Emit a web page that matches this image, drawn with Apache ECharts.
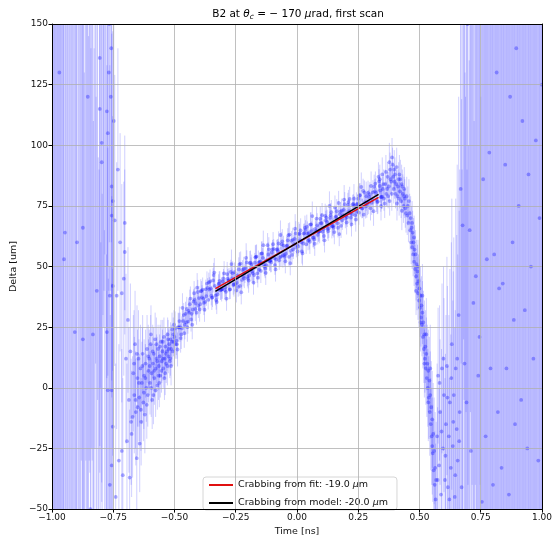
<!DOCTYPE html>
<html>
<head>
<meta charset="utf-8">
<script src="https://cdn.jsdelivr.net/npm/echarts@6/dist/echarts.min.js"></script>
<style>html,body{margin:0;padding:0;background:#fff}#c{width:555px;height:542px}</style>
</head>
<body>
<div id="c"></div>
<script>
// [time (ns), delta (um), error (um)]
const leftTail = [
[-1.000,-70,300],[-0.995,170,250],[-0.990,-80,260],[-0.985,210,320],[-0.980,175,280],[-0.975,-120,300],
[-0.970,130,240],[-0.965,250,330],[-0.960,-85,270],[-0.955,160,290],[-0.951,53,250],[-0.947,64,250],
[-0.944,-150,310],[-0.938,190,280],[-0.932,-95,300],[-0.926,-60,250],[-0.920,160,270],[-0.914,230,310],
[-0.907,23,280],[-0.902,-100,260],[-0.898,60,240],[-0.892,205,290],[-0.886,-110,260],[-0.880,200,230],
[-0.874,66,250],[-0.874,20,270],[-0.868,-90,220],[-0.862,180,210],[-0.856,-70,240],[-0.854,120,230],
[-0.848,170,200],[-0.843,-50,220],[-0.838,185,210],[-0.833,22,190],[-0.828,-60,200],[-0.822,190,180],
[-0.817,40,190],[-0.811,-75,170],[-0.805,136,160],[-0.805,115,150],[-0.801,-90,150],[-0.797,101,140],
[-0.797,93,140],[-0.792,160,130],[-0.788,170,130],[-0.784,175,120],[-0.780,-80,120],[-0.776,114,110],
[-0.776,23,110],[-0.772,105,100],[-0.772,-1,100],[-0.768,130,90],[-0.764,38,95],[-0.764,-40,90],
[-0.760,120,80],[-0.756,83,80],[-0.756,71,75],[-0.756,-1,80],[-0.756,-32,75],[-0.752,77,70],
[-0.752,42,70],[-0.752,-16,65],[-0.748,110,60],[-0.744,69,60],[-0.740,-45,55],[-0.736,38,55],
[-0.731,90,50],[-0.727,-30,48],[-0.722,60,45],[-0.715,39,45],[-0.715,-26,42],[-0.711,-36,40],
[-0.707,45,40],[-0.703,68,36],[-0.703,56,34]
];
const leftTail2 = [
[-0.998,-90,290],[-0.993,185,300],[-0.988,-130,320],[-0.983,220,300],[-0.978,-70,280],[-0.973,195,310],
[-0.968,-105,290],[-0.963,240,320],[-0.958,-65,270],[-0.953,180,300],[-0.942,-115,290],[-0.936,205,300],
[-0.929,-80,280],[-0.923,175,290],[-0.917,-140,310],[-0.911,215,300],[-0.905,-75,260],[-0.899,190,280],
[-0.889,-95,270],[-0.883,170,260],[-0.877,-120,280],[-0.871,200,250],[-0.865,-65,240],[-0.859,165,230],
[-0.851,-85,230],[-0.846,185,220],[-0.841,-70,210],[-0.836,170,200],[-0.831,-90,200],[-0.825,165,190],
[-0.820,-60,180],[-0.814,175,180],[-0.808,-80,170],[-0.803,160,160],[-0.795,-70,150],[-0.790,165,140],
[-0.786,-65,130],[-0.782,160,120],[-0.778,-60,115],[-0.774,155,105],[-0.770,-55,100],[-0.766,150,90],
[-0.762,-60,90],[-0.758,140,80]
];
const dip = [
[-0.698,12,35],[-0.694,-22,32],[-0.690,28,30],[-0.686,-5,30],[-0.683,-37,28],[-0.680,15,28],
[-0.677,-14,26],[-0.675,-19,26],[-0.671,-12,25],[-0.668,6,24],[-0.664,-3,24],[-0.661,18,22],
[-0.658,-10,22],[-0.654,-29,22],[-0.651,4,20],[-0.650,-8,20],[-0.647,12,20],[-0.644,-4,18],
[-0.642,-23,20],[-0.639,8,18],[-0.636,-14,18],[-0.633,2,17],[-0.630,14,16],[-0.627,-6,16],
[-0.624,5,15],[-0.621,-11,16],[-0.618,10,14],[-0.615,0,14],[-0.612,16,14],[-0.609,-3,13],
[-0.606,7,13],[-0.603,12,12],[-0.600,2,13],[-0.597,18,12],[-0.594,6,12],[-0.591,-5,12],
[-0.588,10,11],[-0.585,14,11],[-0.582,4,11],[-0.579,20,11],[-0.576,8,10],[-0.573,12,10],
[-0.570,1,10],[-0.567,16,10],[-0.564,9,10],[-0.561,13,9],[-0.558,5,9],[-0.555,19,9],
[-0.552,11,9],[-0.549,15,9],[-0.546,8,8],[-0.543,21,8],[-0.540,12,8],[-0.537,17,8],
[-0.534,10,8],[-0.531,15,8],[-0.528,22,7],[-0.525,13,7],[-0.522,18,7],[-0.519,11,7],
[-0.516,20,7],[-0.513,16,7],[-0.510,24,7],[-0.507,15,6],[-0.504,19,6],[-0.502,26,6]
];
const dip2 = [
[-0.665,10,22],[-0.659,-5,20],[-0.653,14,20],[-0.645,2,18],[-0.637,-9,17],[-0.631,9,16],
[-0.625,-2,15],[-0.619,4,14],[-0.613,-7,14],[-0.607,13,13],[-0.601,9,12],[-0.595,0,12],
[-0.589,15,11],[-0.583,7,11],[-0.577,-1,11],[-0.571,11,10],[-0.565,5,10],[-0.559,17,9],
[-0.553,7,9],[-0.547,12,9],[-0.541,4,9],[-0.535,14,8],[-0.529,9,8],[-0.523,16,8],
[-0.517,12,7],[-0.511,19,7],[-0.505,22,7],[-0.596,22,12],[-0.586,-3,12],[-0.574,18,11],
[-0.562,2,10],[-0.548,19,9],[-0.538,6,9],[-0.526,20,8],[-0.514,9,8]
];
const rampA = [
[-0.50,21,6],[-0.49,18,6],[-0.48,27.5,6],[-0.47,24.5,5],[-0.46,22.5,6],[-0.45,32.5,5],[-0.44,31,5],
[-0.43,30.5,5],[-0.42,39,5],[-0.41,31,5],[-0.40,37,5],[-0.39,40,4],[-0.38,35,5],[-0.37,37.8,4],
[-0.36,43.5,4],[-0.35,38,4],[-0.34,46.5,5],[-0.33,36.2,4],[-0.32,42.8,4],[-0.31,40.4,4],[-0.30,45,4],
[-0.29,39.6,4],[-0.28,44.2,4],[-0.27,47.8,5],[-0.26,42.4,4],[-0.25,45,4],[-0.24,41.6,4],[-0.23,51.2,5],
[-0.22,45.8,4],[-0.21,49.4,4],[-0.20,45,4],[-0.19,51.6,5],[-0.18,47.2,4],[-0.17,53.8,5],[-0.16,45.4,4],
[-0.15,52,4],[-0.14,53.6,4],[-0.13,49.2,4],[-0.12,58.8,5],[-0.11,52.4,4],[-0.10,57,4],[-0.09,50.6,4],
[-0.08,57.2,4],[-0.07,53.8,4],[-0.06,60.4,5],[-0.05,54,4],[-0.04,58.6,4],[-0.03,63.2,5],[-0.02,54.8,4],
[-0.01,61.4,4],[0.00,59,4],[0.01,63.6,4],[0.02,56.2,5],[0.03,63.8,4],[0.04,66.4,5],[0.05,61,4],
[0.06,64.6,4],[0.07,61.2,4],[0.08,69.8,5],[0.09,64.4,4],[0.10,68,4],[0.11,62.6,4],[0.12,70.2,5],
[0.13,65.8,4],[0.14,72.4,5],[0.15,66,4],[0.16,70.6,4],[0.17,76.2,5],[0.18,66.8,5],[0.19,73.4,4],
[0.20,71,4],[0.21,76.6,5],[0.22,70.2,4],[0.23,75.8,4],[0.24,69.4,5],[0.25,78,5],[0.26,74.6,4],
[0.27,81.2,5],[0.28,74.8,5],[0.29,80.4,5],[0.30,74,5],[0.31,80.6,5],[0.32,84.2,5],[0.33,76.8,5],
[0.34,81.4,5]
];
const rampB = [
[-0.495,18,6],[-0.485,25,6],[-0.475,20.5,6],[-0.465,27.5,5],[-0.455,30.5,5],[-0.445,27.3,5],[-0.435,36.8,5],
[-0.425,32.3,5],[-0.415,32.5,5],[-0.405,39.5,5],[-0.395,34.5,4],[-0.385,40.5,5],[-0.375,35.4,4],[-0.365,41.2,4],
[-0.355,43.8,5],[-0.345,37.3,4],[-0.335,42,4],[-0.325,38.5,4],[-0.315,44.1,4],[-0.305,40.7,4],[-0.295,40.3,4],
[-0.285,46.9,5],[-0.275,40.5,4],[-0.265,45.1,4],[-0.255,47.7,4],[-0.245,43.3,4],[-0.235,50.9,5],[-0.225,44.5,4],
[-0.215,45.1,4],[-0.205,51.7,5],[-0.195,46.3,4],[-0.185,50.9,4],[-0.175,46.5,4],[-0.165,54.1,5],[-0.155,48.7,4],
[-0.145,55.3,5],[-0.135,50.9,4],[-0.125,50.5,4],[-0.115,57.1,5],[-0.105,51.7,4],[-0.095,57.3,4],[-0.085,52.9,4],
[-0.075,59.5,5],[-0.065,54.1,4],[-0.055,58.7,4],[-0.045,55.3,4],[-0.035,62.9,5],[-0.025,56.5,4],[-0.015,57.1,4],
[-0.005,63.7,5],[0.005,58.3,4],[0.015,64.9,5],[0.025,59.5,4],[0.035,65.1,4],[0.045,60.7,4],[0.055,67.3,5],
[0.065,61.9,4],[0.075,65.5,4],[0.085,63.1,4],[0.095,69.7,5],[0.105,64.3,4],[0.115,70.9,5],[0.125,65.5,4],
[0.135,70.1,4],[0.145,66.7,4],[0.155,74.3,5],[0.165,67.9,4],[0.175,71.5,4],[0.185,69.1,4],[0.195,75.7,5],
[0.205,70.3,4],[0.215,77.9,5],[0.225,71.5,4],[0.235,75.1,4],[0.245,72.7,4],[0.255,79.3,5],[0.265,73.9,4],
[0.275,80.5,5],[0.285,75.1,5],[0.295,78.7,5],[0.305,76.3,5],[0.315,82.9,5],[0.325,77.5,5],[0.335,85.1,5],
[0.345,78.7,5]
];
const rampC = [
[-0.4975,24.5,7],[-0.4875,15.8,7],[-0.4775,25,6],[-0.4675,33,6],[-0.4575,26,6],[-0.4475,25,6],[-0.4375,34.5,6],
[-0.4275,26,6],[-0.4175,36.3,5],[-0.4075,41.3,6],[-0.3975,32.3,5],[-0.3875,37.3,5],[-0.3775,32.2,5],[-0.3675,43,5],
[-0.3575,40.6,5],[-0.3475,37.1,5],[-0.3375,47.5,6],[-0.3275,35.4,5],[-0.3175,43,5],[-0.3075,40.6,5],[-0.2975,47.2,5],
[-0.2875,36.8,5],[-0.2775,44.4,5],[-0.2675,51,6],[-0.2575,42.6,5],[-0.2475,40.2,5],[-0.2375,48.8,5],[-0.2275,39.4,5],
[-0.2175,49,5],[-0.2075,53.6,6],[-0.1975,44.2,5],[-0.1875,48.8,5],[-0.1775,43.4,5],[-0.1675,54,5],[-0.1575,51.6,5],
[-0.1475,48.2,5],[-0.1375,58.8,6],[-0.1275,47.4,5],[-0.1175,55,5],[-0.1075,52.6,5],[-0.0975,59.2,5],[-0.0875,48.8,5],
[-0.0775,56.4,5],[-0.0675,63,6],[-0.0575,54.6,5],[-0.0475,52.2,5],[-0.0375,60.8,5],[-0.0275,51.4,5],[-0.0175,61,5],
[-0.0075,65.6,6],[0.0025,56.2,5],[0.0125,60.8,5],[0.0225,55.4,5],[0.0325,66,5],[0.0425,63.6,5],[0.0525,60.2,5],
[0.0625,70.8,6],[0.0725,59.4,5],[0.0825,67,5],[0.0925,64.6,5],[0.1025,71.2,5],[0.1125,60.8,5],[0.1225,68.4,5],
[0.1325,75,6],[0.1425,66.6,5],[0.1525,64.2,5],[0.1625,72.8,5],[0.1725,63.4,5],[0.1825,73,5],[0.1925,77.6,6],
[0.2025,68.2,5],[0.2125,72.8,5],[0.2225,67.4,5],[0.2325,78,6],[0.2425,75.6,5],[0.2525,72.2,5],[0.2625,82.8,6],
[0.2725,71.4,5],[0.2825,79,6],[0.2925,76.6,5],[0.3025,83.2,6],[0.3125,72.8,6],[0.3225,80.4,6],[0.3325,87,6],
[0.3425,78.6,6]
];
const rampD = [
[-0.4925,19.5,6],[-0.4825,24.8,6],[-0.4725,22,6],[-0.4625,30,5],[-0.4525,27,5],[-0.4425,31.7,5],[-0.4325,28.2,5],
[-0.4225,35.6,5],[-0.4125,34.8,5],[-0.4025,33.8,5],[-0.3925,39.8,5],[-0.3825,36.8,4],[-0.3725,40.6,4],[-0.3625,36.3,4],
[-0.3525,40.9,4],[-0.3425,44.3,5],[-0.3325,38,4],[-0.3225,40.6,4],[-0.3125,40.2,4],[-0.3025,43.8,4],[-0.2925,41.4,4],
[-0.2825,45,4],[-0.2725,40.6,4],[-0.2625,47.2,5],[-0.2525,42.8,4],[-0.2425,46.4,4],[-0.2325,42,4],[-0.2225,48.6,4],
[-0.2125,47.2,4],[-0.2025,45.8,4],[-0.1925,51.4,5],[-0.1825,48,4],[-0.1725,51.6,4],[-0.1625,47.2,4],[-0.1525,51.8,4],
[-0.1425,55.4,5],[-0.1325,50,4],[-0.1225,52.6,4],[-0.1125,52.2,4],[-0.1025,55.8,4],[-0.0925,53.4,4],[-0.0825,57,4],
[-0.0725,52.6,4],[-0.0625,59.2,5],[-0.0525,54.8,4],[-0.0425,58.4,4],[-0.0325,54,4],[-0.0225,60.6,4],[-0.0125,59.2,4],
[-0.0025,57.8,4],[0.0075,63.4,5],[0.0175,60,4],[0.0275,63.6,4],[0.0375,59.2,4],[0.0475,63.8,4],[0.0575,67.4,5],
[0.0675,62,4],[0.0775,64.6,4],[0.0875,64.2,4],[0.0975,67.8,4],[0.1075,65.4,4],[0.1175,69,4],[0.1275,64.6,4],
[0.1375,71.2,5],[0.1475,66.8,4],[0.1575,70.4,4],[0.1675,66,4],[0.1775,72.6,4],[0.1875,71.2,4],[0.1975,69.8,4],
[0.2075,75.4,5],[0.2175,72,4],[0.2275,75.6,4],[0.2375,71.2,4],[0.2475,75.8,4],[0.2575,79.4,5],[0.2675,74,4],
[0.2775,76.6,5],[0.2875,76.2,5],[0.2975,79.8,5],[0.3075,77.4,5],[0.3175,81,5],[0.3275,76.6,5],[0.3375,83.2,5],
[0.3475,78.8,5]
];
const peak = [
[0.350,82,5],[0.355,78,5],[0.360,84,6],[0.365,80,5],[0.370,87,6],[0.372,79,5],[0.375,83,6],
[0.380,90,7],[0.382,86,6],[0.385,85,6],[0.390,92,7],[0.392,87,6],[0.395,82,6],[0.400,88,7],
[0.402,80,6],[0.405,84,6],[0.410,79,6],[0.412,83,7],[0.415,86,7],[0.420,81,7],[0.422,86,8],
[0.425,77,7],[0.430,83,7],[0.432,80,8],[0.435,75,7],[0.440,78,8],[0.442,74,8],[0.445,72,8]
];
const peak2 = [
[0.338,86,6],[0.343,75,6],[0.348,88,7],[0.353,84,6],[0.358,76,6],[0.363,89,7],[0.368,82,7],
[0.377,93,8],[0.387,80,7],[0.397,90,8],[0.407,91,8],[0.417,78,7],[0.427,84,8],[0.437,79,8],
[0.378,77,6],[0.388,95,8],[0.398,85,7],[0.408,76,7],[0.418,88,8],[0.428,73,8],[0.438,82,9]
];
const drop = [
[0.448,79,8],[0.450,71,8],[0.452,75,8],[0.455,68,8],[0.457,77,9],[0.460,72,8],[0.462,65,8],
[0.464,70,9],[0.466,60,9],[0.468,66,9],[0.470,58,9],[0.472,64,9],[0.474,55,9],[0.476,60,10],
[0.478,52,10],[0.480,57,10],[0.482,49,10],[0.484,55,10],[0.486,46,10],[0.488,51,10],[0.490,43,11],
[0.492,48,11],[0.494,39,11],[0.496,44,11],[0.498,36,11],[0.500,41,12],[0.502,33,12],[0.504,38,12],
[0.506,29,12],[0.508,34,12],[0.510,26,13],[0.512,31,13],[0.514,21,13],[0.516,27,13],[0.518,16,14],
[0.520,22,14],[0.522,12,14],[0.524,17,15],[0.526,8,15],[0.528,14,15],[0.530,4,16],[0.532,10,16],
[0.534,0,16],[0.536,7,17],[0.538,-4,17],[0.540,3,18],[0.542,-10,18],[0.544,-3,18],[0.546,-15,19],
[0.548,-8,19],[0.550,-20,20],[0.552,-13,20],[0.554,-27,20],[0.556,-19,21],[0.558,-34,21],[0.560,-26,22],
[0.562,-40,22],[0.564,-33,23],[0.566,-46,23],[0.568,-38,24],
[0.470,68,9],[0.478,62,9],[0.486,40,10],[0.494,50,11],[0.504,27,12],[0.512,38,13],[0.520,10,14],
[0.528,22,15],[0.536,-6,16],[0.544,8,18],[0.552,-24,20]
];
const afterDrop = [
[0.572,-20,30],[0.576,5,28],[0.580,-32,32],[0.584,-10,30],[0.588,-44,35],[0.592,8,35],[0.596,-25,38],
[0.600,-3,40],[0.604,-38,42],[0.608,-15,45],[0.612,9,45],[0.616,-41,50],[0.620,-20,50],[0.624,-6,55],
[0.628,-33,55],[0.632,18,60],[0.636,-24,60],[0.640,-3,65],[0.644,-45,70],[0.648,8,70],[0.652,-17,80],
[0.656,-30,85],[0.660,30,90],[0.664,-10,100],
[0.574,-38,30],[0.582,2,32],[0.590,-18,34],[0.598,12,38],[0.606,-28,42],[0.614,-4,46],[0.622,-46,50],
[0.630,4,56],[0.638,-14,62],[0.646,-36,68],[0.654,12,80],[0.662,-22,95]
];
const rightTail = [
[0.668,82,150],[0.672,-41,160],[0.676,67,170],[0.680,200,180],[0.684,10,190],[0.688,-80,200],[0.692,-6,200],
[0.696,150,210],[0.700,-120,220],[0.705,65,220],[0.710,-26,230],[0.715,190,230],[0.720,35,240],[0.725,-60,240],
[0.730,46,250],[0.735,170,250],[0.740,5,260],[0.745,21,260],[0.750,-150,270],[0.755,-47,270],[0.760,86,280],
[0.765,230,280],[0.770,-20,290],[0.775,53,290],[0.780,-90,300],[0.785,97,300],[0.790,8,300],[0.795,210,310],
[0.800,-40,310],[0.805,55,310],[0.810,-110,320],[0.815,130,320],[0.820,-10,320],[0.825,41,330],[0.830,260,330],
[0.835,-33,330],[0.840,43,340],[0.845,-70,340],[0.850,92,340],[0.855,8,350],[0.860,180,350],[0.865,-44,350],
[0.870,120,360],[0.875,-130,360],[0.880,60,360],[0.885,28,370],[0.890,-15,370],[0.895,140,370],[0.900,-90,380],
[0.905,75,380],[0.910,220,380],[0.915,-5,390],[0.920,110,390],[0.925,-60,390],[0.930,32,400],[0.935,165,400],
[0.940,-25,400],[0.945,88,410],[0.950,-140,410],[0.955,50,410],[0.960,195,420],[0.965,12,420],[0.970,-75,420],
[0.975,102,430],[0.980,240,430],[0.985,-30,430],[0.990,70,440],[0.995,-100,440],[1.000,125,440]
];
const rightTail2 = [
[0.670,160,150],[0.674,-70,160],[0.678,-95,170],[0.682,175,180],[0.686,-60,190],[0.690,190,200],[0.694,-110,200],
[0.698,170,210],[0.703,-85,220],[0.708,210,220],[0.713,-70,230],[0.718,165,230],[0.723,-130,240],[0.728,200,240],
[0.733,-90,250],[0.738,185,250],[0.743,-75,260],[0.748,220,260],[0.753,-100,270],[0.758,175,270],[0.763,-65,280],
[0.768,195,280],[0.773,-120,290],[0.778,170,290],[0.783,-80,300],[0.788,230,300],[0.793,-95,300],[0.798,180,310],
[0.803,-70,310],[0.808,205,310],[0.813,-125,320],[0.818,170,320],[0.823,-85,320],[0.828,190,330],[0.833,-105,330],
[0.838,215,330],[0.843,-75,340],[0.848,175,340],[0.853,-140,340],[0.858,200,350],[0.863,-90,350],[0.868,180,350],
[0.873,-70,360],[0.878,225,360],[0.883,-110,360],[0.888,170,370],[0.893,-85,370],[0.898,195,370],[0.903,-130,380],
[0.908,185,380],[0.913,-75,380],[0.918,210,390],[0.923,-95,390],[0.928,175,390],[0.933,-120,400],[0.938,200,400],
[0.943,-80,400],[0.948,180,410],[0.953,-105,410],[0.958,230,410],[0.963,-70,420],[0.968,190,420],[0.973,-115,420],
[0.978,175,430],[0.983,-90,430],[0.988,205,430],[0.993,-75,440],[0.998,185,440]
];
const fitLine = [[-0.333,40.9],[0.333,78.5]];
const modelLine = [[-0.333,39.8],[0.333,79.8]];
const fitLabel = 'Crabbing from fit: -19.0 {i|μ}m';
const modelLabel = 'Crabbing from model: -20.0 {i|μ}m';
const yMin = -50, yMax = 150;

const allPoints = [].concat(leftTail, leftTail2, dip, dip2, rampA, rampB, rampC, rampD,
  peak, peak2, drop, afterDrop, rightTail, rightTail2);
const FONT = 'DejaVu Sans';
const fmt = v => String(v).replace('-', '\u2212');

const chart = echarts.init(document.getElementById('c'), null, {renderer: 'canvas'});
chart.setOption({
  animation: false,
  backgroundColor: '#fff',
  grid: {left: 52, right: 11, top: 24, bottom: 29},
  graphic: [{
    type: 'text', x: 298, y: 7, z: 100,
    style: {
      text: 'B2 at {i|θ}{s|c} = − 170 {i|μ}rad, first scan',
      align: 'center', fill: '#000', font: '10.5px "DejaVu Sans"',
      rich: {
        i: {fontStyle: 'italic', fontSize: 10.5, fontFamily: FONT},
        s: {fontStyle: 'italic', fontSize: 7.5, fontFamily: FONT, padding: [6, 0, 0, 0]}
      }
    }
  }],
  legend: {
    orient: 'vertical', left: 203, top: 477,
    itemWidth: 24, itemHeight: 2, itemGap: 8,
    icon: 'rect',
    padding: [3, 9, 2, 6],
    backgroundColor: 'rgba(255,255,255,0.85)',
    borderColor: '#d6d6d6', borderWidth: 1, borderRadius: 3,
    textStyle: {fontFamily: FONT, fontSize: 9.5, color: '#111',
      rich: {i: {fontStyle: 'italic', fontFamily: FONT, fontSize: 9.5, color: '#111'}}},
    data: [fitLabel, modelLabel]
  },
  xAxis: [{
    type: 'value', min: -1, max: 1, interval: 0.25,
    name: 'Time [ns]', nameLocation: 'middle', nameGap: 17,
    nameTextStyle: {fontFamily: FONT, fontSize: 9.5, color: '#111'},
    axisLine: {show: true, onZero: false, lineStyle: {color: '#000', width: 1}},
    axisTick: {show: true, length: 3.5, lineStyle: {color: '#000'}},
    axisLabel: {fontFamily: FONT, fontSize: 9, color: '#111', margin: 4,
      formatter: v => fmt(v.toFixed(2))},
    splitLine: {show: true, lineStyle: {color: '#b0b0b0', width: 0.8}},
    z: 10
  }, {
    type: 'value', min: -1, max: 1, position: 'top',
    axisLine: {show: true, onZero: false, lineStyle: {color: '#000', width: 1}},
    axisTick: {show: false}, axisLabel: {show: false}, splitLine: {show: false}, z: 10
  }],
  yAxis: [{
    type: 'value', min: yMin, max: yMax, interval: 25,
    name: 'Delta [um]', nameLocation: 'middle', nameGap: 32,
    nameTextStyle: {fontFamily: FONT, fontSize: 9.5, color: '#111'},
    axisLine: {show: true, onZero: false, lineStyle: {color: '#000', width: 1}},
    axisTick: {show: true, length: 3.5, lineStyle: {color: '#000'}},
    axisLabel: {fontFamily: FONT, fontSize: 9, color: '#111', margin: 4,
      formatter: v => fmt(v)},
    splitLine: {show: true, lineStyle: {color: '#b0b0b0', width: 0.8}},
    z: 10
  }, {
    type: 'value', min: yMin, max: yMax, position: 'right',
    axisLine: {show: true, onZero: false, lineStyle: {color: '#000', width: 1}},
    axisTick: {show: false}, axisLabel: {show: false}, splitLine: {show: false}, z: 10
  }],
  series: [{
    type: 'custom', name: 'data', clip: true, z: 2,
    data: allPoints,
    renderItem: function (params, api) {
      const x = api.value(0), y = api.value(1), e = api.value(2);
      const hi = Math.min(y + e, yMax + 5), lo = Math.max(y - e, yMin - 5);
      const children = [];
      if (hi > yMin && lo < yMax) {
        const p1 = api.coord([x, hi]), p2 = api.coord([x, lo]);
        children.push({type: 'line', shape: {x1: p1[0], y1: p1[1], x2: p2[0], y2: p2[1]},
          style: {stroke: 'rgba(40,40,255,0.22)', lineWidth: 1}});
      }
      if (y >= yMin && y <= yMax) {
        const c = api.coord([x, y]);
        children.push({type: 'circle', shape: {cx: c[0], cy: c[1], r: 1.9},
          style: {fill: 'rgba(25,25,255,0.36)'}});
      }
      return {type: 'group', children: children};
    }
  }, {
    type: 'line', name: fitLabel, data: fitLine, showSymbol: false, z: 5,
    lineStyle: {color: '#e01010', width: 1.5}, itemStyle: {color: '#e01010'}
  }, {
    type: 'line', name: modelLabel, data: modelLine, showSymbol: false, z: 6,
    lineStyle: {color: '#000', width: 1.5}, itemStyle: {color: '#000'}
  }]
});
</script>
</body>
</html>
